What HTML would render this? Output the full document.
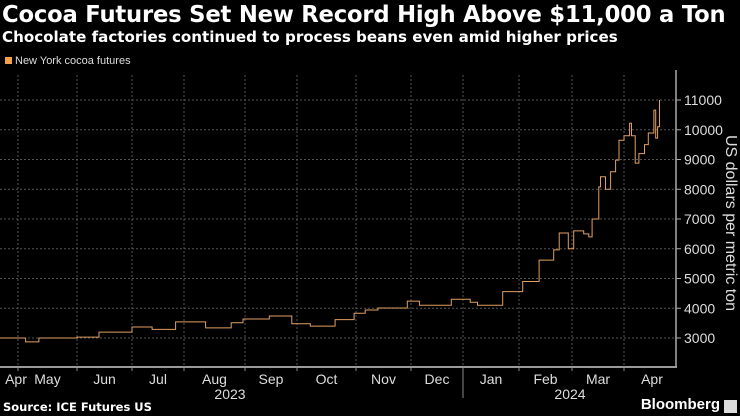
<!DOCTYPE html>
<html><head><meta charset="utf-8"><style>
body{margin:0;background:#000;width:740px;height:416px;overflow:hidden;font-family:"Liberation Sans",sans-serif;color:#fff;position:relative}
.t{position:absolute;white-space:nowrap}
</style></head><body>
<div class="t" style="left:2px;top:2px;font-size:22.7px;font-weight:bold;font-family:'DejaVu Sans',sans-serif;letter-spacing:-0.2px">Cocoa Futures Set New Record High Above $11,000 a Ton</div>
<div class="t" style="left:2px;top:28px;font-size:15.1px;font-weight:bold;font-family:'DejaVu Sans',sans-serif">Chocolate factories continued to process beans even amid higher prices</div>
<div class="t" style="left:5px;top:55px;font-size:11px;color:#ddd"><span style="display:inline-block;width:7px;height:7px;background:#f5a04a;margin-right:3px"></span>New York cocoa futures</div>
<svg id="c" width="740" height="416" style="position:absolute;left:0;top:0"></svg>
<div class="t" style="left:3px;top:400px;font-size:11.5px;font-weight:bold;font-family:'DejaVu Sans',sans-serif">Source: ICE Futures US</div>
<div class="t" style="right:20px;top:396px;font-size:15px;font-weight:bold">Bloomberg</div>
<div class="t" style="right:3px;top:400px;width:13px;height:13px;background:#ddd"></div>
<script>
const dates=["2023-04-21","2023-05-05","2023-05-12","2023-06-01","2023-06-13","2023-07-01","2023-07-13","2023-07-27","2023-08-07","2023-08-12","2023-08-25","2023-08-31","2023-09-15","2023-09-28","2023-10-08","2023-10-21","2023-10-31","2023-11-06","2023-11-13","2023-11-29","2023-12-06","2023-12-25","2024-01-05","2024-01-09","2024-01-23","2024-02-03","2024-02-12","2024-02-20","2024-02-23","2024-02-28","2024-03-02","2024-03-08","2024-03-11","2024-03-13","2024-03-17","2024-03-18","2024-03-21","2024-03-24","2024-03-27","2024-03-29","2024-04-01","2024-04-04","2024-04-05","2024-04-07","2024-04-09","2024-04-12","2024-04-14","2024-04-17","2024-04-18","2024-04-19","2024-04-20"];
const prices=[3000,2870,3000,3030,3200,3370,3290,3540,3540,3340,3510,3640,3740,3480,3400,3620,3830,3940,4010,4240,4100,4300,4200,4100,4560,4900,5620,5960,6530,6000,6600,6500,6400,7000,8080,8420,8000,8590,8980,9650,9800,10220,9800,8880,9200,9500,9890,10660,9720,10100,11000];
const yTicks=[3000,4000,5000,6000,7000,8000,9000,10000,11000];
const monthLabels=["Apr","May","Jun","Jul","Aug","Sep","Oct","Nov","Dec","Jan","Feb","Mar","Apr"];
const monthStarts=["2023-04-01","2023-05-01","2023-06-01","2023-07-01","2023-08-01","2023-09-01","2023-10-01","2023-11-01","2023-12-01","2024-01-01","2024-02-01","2024-03-01","2024-04-01","2024-05-01"];
const monthX=[-39,18,77,132,184,245,297,356,411,463,519,572,624,680];
const NS="http://www.w3.org/2000/svg",svg=document.getElementById('c');
const ms=s=>Date.parse(s);
function x(d){const t=ms(d);for(let i=0;i<monthStarts.length-1;i++){const a=ms(monthStarts[i]),b=ms(monthStarts[i+1]);if(t<b)return monthX[i]+(t-a)/(b-a)*(monthX[i+1]-monthX[i]);}return 680;}
function y(v){return 338-(v-3000)*0.02975;}
function el(t,a){const e=document.createElementNS(NS,t);for(const k in a)e.setAttribute(k,a[k]);svg.appendChild(e);return e;}
yTicks.forEach(v=>{
 const g=el('line',{x1:0,x2:676,y1:y(v),y2:y(v),stroke:'#555','stroke-dasharray':'2,2'});
 
 
 el('line',{x1:676,x2:681,y1:y(v),y2:y(v),stroke:'#aaa'});
 const t=el('text',{x:684,y:y(v)+5,fill:'#ddd','font-size':'14','font-family':'Liberation Sans'});t.textContent=v;
 
 
});
for(let i=1;i<monthStarts.length-1;i++){
 const g=el('line',{x1:monthX[i],x2:monthX[i],y1:75,y2:367,stroke:'#555','stroke-dasharray':'2,2'});
 
 
 el('line',{x1:monthX[i],x2:monthX[i],y1:367,y2:371,stroke:'#888'});
}
monthLabels.forEach((m,i)=>{
 const t=el('text',{x:i==0?16:(monthX[i]+monthX[i+1])/2,y:384,fill:'#ddd','font-size':'14','text-anchor':'middle','font-family':'Liberation Sans'});t.textContent=m;
 
 
});
el('line',{x1:463,x2:463,y1:371,y2:398,stroke:'#888'});
[["2023",230],["2024",570]].forEach(a=>{const t=el('text',{x:a[1],y:399,fill:'#ddd','font-size':'14','text-anchor':'middle','font-family':'Liberation Sans'});t.textContent=a[0];
 
 });
el('line',{x1:0,x2:677,y1:367,y2:367,stroke:'#999','stroke-width':2});
el('line',{x1:676,x2:676,y1:70,y2:367,stroke:'#aaa','stroke-width':1.5});
const yl=el('text',{x:0,y:0,fill:'#ddd','font-size':'16','text-anchor':'middle','font-family':'Liberation Sans',transform:'translate(726,223) rotate(90)'});yl.textContent='US dollars per metric ton';


let d='';
dates.forEach((dt,i)=>{const px=x(dt),py=y(prices[i]);d+=(i?`H${px.toFixed(1)}V${py.toFixed(1)}`:`M${Math.max(px,0)} ${py.toFixed(1)}`);});
const p=el('path',{d:d,fill:'none',stroke:'#e0a060','stroke-width':1});


</script>
</body></html>
